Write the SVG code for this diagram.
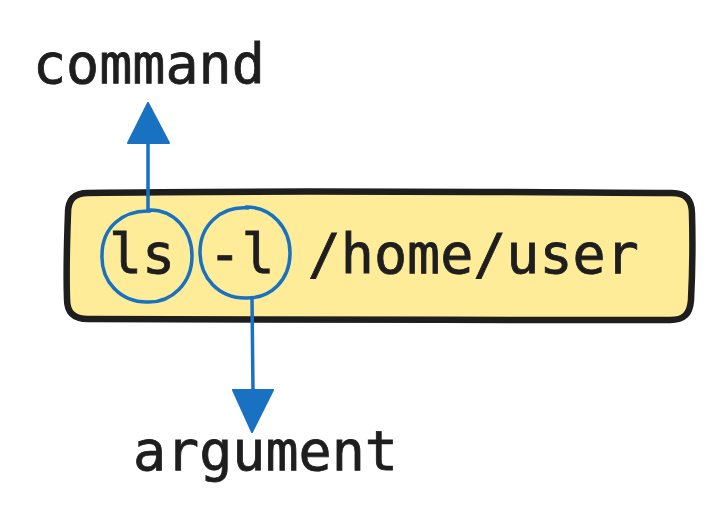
<svg xmlns="http://www.w3.org/2000/svg" width="721" height="523" viewBox="0 0 721 523">
  <style>
    .txt { font-family: "DejaVu Sans Mono", "Liberation Mono", monospace; font-size: 55px; fill: #1e1e1e; stroke: #1e1e1e; stroke-width: 0.8; }
    .box { fill: #ffec99; stroke: #1e1e1e; stroke-width: 6.5; stroke-linejoin: round; stroke-linecap: round; }
    .ring { fill: none; stroke: #1971c2; stroke-width: 3.5; stroke-linecap: round; }
    .conn { fill: none; stroke: #1971c2; stroke-width: 3.5; stroke-linecap: round; }
    .head { fill: #1971c2; stroke: #1971c2; stroke-width: 2; stroke-linejoin: round; }
  </style>
  <rect width="721" height="523" fill="#ffffff"/>

  <g id="command-box">
    <path class="box" d="M88 193 C250 190 480 192 672 193 C686 193 692 200 692 214 C693 250 692 280 691 300 C690 314 684 320 670 320 C480 321 260 318 88 319 C74 319 67 313 67 299 C66 270 67 240 68 213 C68 199 75 193 88 193 Z"/>
    <text class="txt" x="109" y="273">ls -l /home/user</text>
  </g>

  <g id="ls-highlight">
    <path class="ring" d="M148 210 C174 209 192 230 192 256 C192 283 172 303 147 302 C120 302 101 281 102 255 C102 228 122 210 150 211"/>
  </g>

  <g id="flag-highlight">
    <path class="ring" d="M246 207 C271 207 290 227 290 253 C290 280 271 299 245 298 C219 298 200 278 200 252 C200 226 220 206 248 208"/>
  </g>

  <g id="label-command">
    <text class="txt" x="33" y="83">command</text>
  </g>

  <g id="label-argument">
    <text class="txt" x="133" y="470">argument</text>
  </g>

  <g id="connectors">
    <line class="conn" x1="148" y1="211" x2="148" y2="140"/>
    <polygon class="head" points="148,103 128,143 169,143"/>
    <line class="conn" x1="252" y1="298" x2="253" y2="392"/>
    <polygon class="head" points="233,390 273,390 252,432"/>
  </g>
</svg>
